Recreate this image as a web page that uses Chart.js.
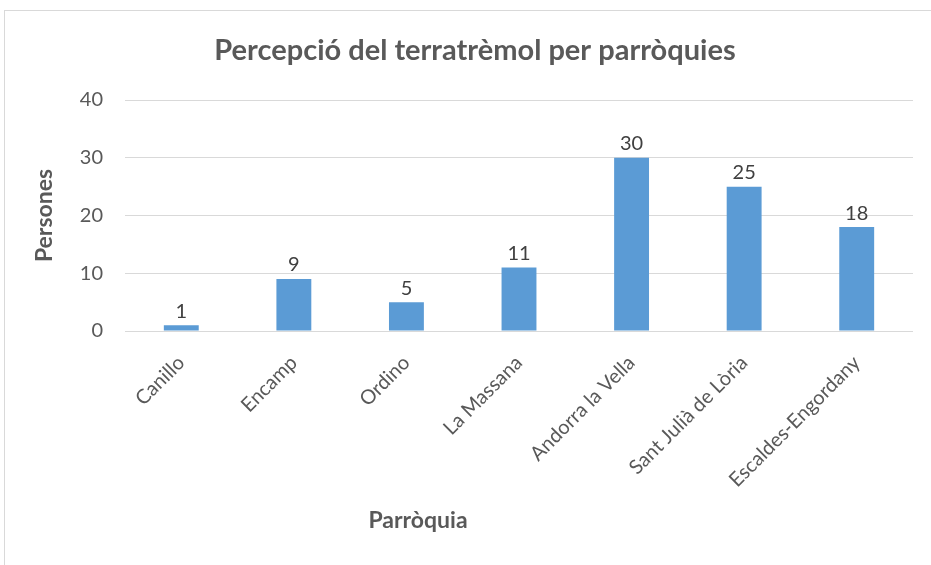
<!DOCTYPE html>
<html>
<head>
<meta charset="utf-8">
<script src="https://cdn.jsdelivr.net/npm/chart.js@4"></script>
<style>
  html, body { margin: 0; padding: 0; background: #fff; overflow: hidden; }
  #wrap { position: relative; width: 931px; height: 565px; }
  #frame { position: absolute; left: 4px; top: 10px; width: 960px; height: 600px; border: 1px solid #d9d9d9; box-sizing: border-box; }
  canvas { position: absolute; left: 0; top: 0; }
</style>
</head>
<body>
<div id="wrap">
  <div id="frame"></div>
  <canvas id="chart" width="931" height="565"></canvas>
</div>
<script>
const chartTitle = "Percepció del terratrèmol per parròquies";
const yTitle = "Persones";
const xTitle = "Parròquia";
const parroquies = ["Canillo", "Encamp", "Ordino", "La Massana", "Andorra la Vella", "Sant Julià de Lòria", "Escaldes-Engordany"];
const persones = [1, 9, 5, 11, 30, 25, 18];
const yTicks = [0, 10, 20, 30, 40];

const FONT = "Lato, 'Open Sans', sans-serif";
const TEXT = "#595959";

// titles and value labels, drawn by hand like Excel places them
const textPlugin = {
  id: "excelText",
  afterDatasetsDraw(chart) {
    const { ctx, chartArea } = chart;
    ctx.save();
    ctx.fillStyle = "#404040";
    ctx.font = `20px ${FONT}`;
    ctx.textAlign = "center";
    ctx.textBaseline = "bottom";
    chart.getDatasetMeta(0).data.forEach((bar, i) => {
      ctx.fillText(String(persones[i]), bar.x, bar.y - 4);
    });

    ctx.fillStyle = TEXT;
    ctx.font = `bold 29px ${FONT}`;
    ctx.textBaseline = "middle";
    ctx.fillText(chartTitle, 475, 51);

    ctx.font = `bold 23px ${FONT}`;
    ctx.fillText(xTitle, 418, 521);

    ctx.translate(45, (chartArea.top + chartArea.bottom) / 2);
    ctx.rotate(-Math.PI / 2);
    ctx.fillText(yTitle, 0, 0);
    ctx.restore();
  },
};

new Chart(document.getElementById("chart"), {
  type: "bar",
  data: {
    labels: parroquies,
    datasets: [{
      data: persones,
      backgroundColor: "#5b9bd5",
      barPercentage: 0.31,
      categoryPercentage: 1,
    }],
  },
  options: {
    responsive: false,
    animation: false,
    layout: { padding: { top: 100, right: 18, left: 0, bottom: 0 } },
    plugins: { legend: { display: false }, tooltip: { enabled: false }, title: { display: false } },
    scales: {
      x: {
        grid: { display: false },
        border: { display: false },
        ticks: {
          color: TEXT,
          font: { family: FONT, size: 20 },
          minRotation: 45,
          maxRotation: 45,
          padding: 12,
          autoSkip: false,
        },
        afterFit(scale) { scale.height = 565 - 331; },
      },
      y: {
        min: 0,
        max: 40,
        afterBuildTicks(scale) { scale.ticks = yTicks.map((v) => ({ value: v })); },
        grid: { color: "#d9d9d9", lineWidth: 1, drawTicks: false },
        border: { display: false },
        ticks: {
          color: TEXT,
          font: { family: FONT, size: 20 },
          padding: 22,
        },
        afterFit(scale) { scale.width = 125; },
      },
    },
  },
  plugins: [textPlugin],
});
</script>
</body>
</html>
